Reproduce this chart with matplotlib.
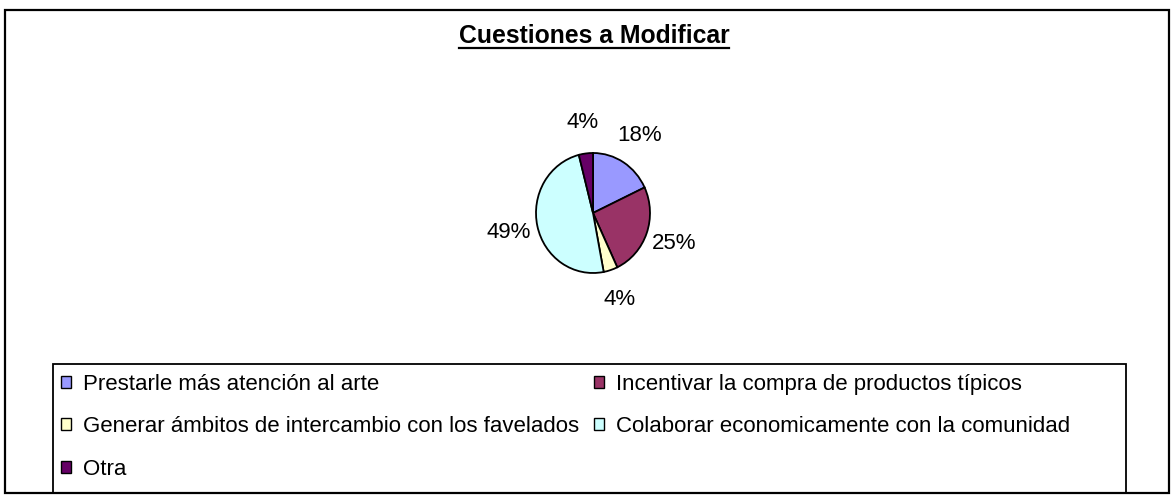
import matplotlib
matplotlib.use("Agg")
import matplotlib.pyplot as plt
from matplotlib.patches import Patch, Rectangle
from matplotlib.lines import Line2D

# ---- data ----
title = "Cuestiones a Modificar"
categories = [
    "Prestarle más atención al arte",
    "Incentivar la compra de productos típicos",
    "Generar ámbitos de intercambio con los favelados",
    "Colaborar economicamente con la comunidad",
    "Otra",
]
values = [18, 25, 4, 49, 4]
colors = ["#9999FF", "#993366", "#FFFFCC", "#CCFFFF", "#660066"]

W, H = 1171, 495
DPI = 100
plt.rcParams["font.family"] = ["Liberation Sans", "DejaVu Sans"]

fig = plt.figure(figsize=(W / DPI, H / DPI), dpi=DPI)
fig.patch.set_facecolor("white")

def fx(px):
    return px / W

def fy(py):
    return 1 - py / H

# outer frame
fig.patches.append(Rectangle((fx(5), fy(493)), fx(1169) - fx(5), fy(10) - fy(493),
                             transform=fig.transFigure, fill=False, edgecolor="black",
                             linewidth=1.6, zorder=0))

# pie axes: center (593,213), rx 57, ry 60
cx, cy, rx, ry = 593, 213, 57, 60
ax = fig.add_axes([fx(cx - rx), fy(cy + ry), (2 * rx) / W, (2 * ry) / H])
wedges, texts, autotexts = ax.pie(
    values, colors=colors, startangle=90, counterclock=False,
    autopct="%1.0f%%", pctdistance=1.52,
    wedgeprops=dict(edgecolor="black", linewidth=1.3),
    textprops=dict(fontsize=16, color="black"),
)
ax.set_aspect("auto")
ax.set_xlim(-1, 1)
ax.set_ylim(-1, 1)
ax.axis("off")

# title with underline
t = fig.text(fx(594), fy(43), title, ha="center", va="baseline",
             fontsize=17.8, fontweight="bold")
fig.canvas.draw()
bb = t.get_window_extent()
uy = fy(47.5)
fig.lines.append(Line2D([bb.x0 / W, bb.x1 / W], [uy, uy], transform=fig.transFigure,
                        color="black", linewidth=1.6))

# legend box
fig.patches.append(Rectangle((fx(53), fy(493)), fx(1126) - fx(53), fy(364) - fy(493),
                             transform=fig.transFigure, fill=False, edgecolor="black",
                             linewidth=1.3, zorder=0))
handles = [Patch(facecolor=c, edgecolor="black", linewidth=1.0) for c in colors]
order = [0, 2, 4, 1, 3]
fig.legend([handles[i] for i in order], [categories[i] for i in order],
           ncol=2, loc="upper left", bbox_to_anchor=(fx(61), fy(374)),
           frameon=False, fontsize=16, handlelength=0.45, handleheight=0.45,
           handletextpad=0.54, columnspacing=0.65, labelspacing=0.96,
           borderpad=0, borderaxespad=0)

fig.savefig("out.png", dpi=DPI, facecolor="white")
